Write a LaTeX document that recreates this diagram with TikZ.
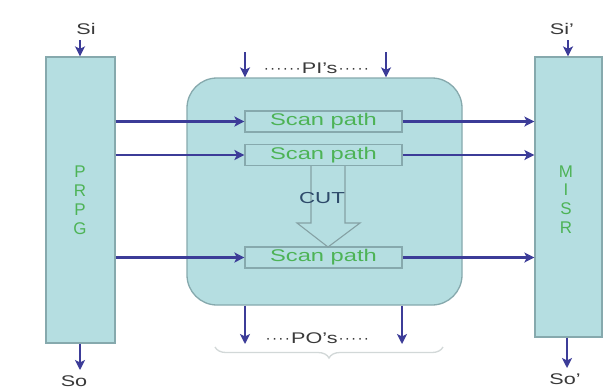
\documentclass[tikz,border=0pt]{standalone}
\usepackage{fontspec}
\setmainfont{Liberation Sans}
\usetikzlibrary{arrows.meta,decorations.pathreplacing}
\definecolor{boxfill}{HTML}{B5DEE1}
\definecolor{boxline}{HTML}{86A9AD}
\definecolor{arrblue}{HTML}{3C3C98}
\definecolor{grtext}{HTML}{4DB356}
\definecolor{lbl}{HTML}{3A3A3A}
\definecolor{cutcol}{HTML}{2E4A6A}
\definecolor{bracecol}{HTML}{D2D8D8}
\newcommand\wideTxt[1]{\scalebox{1.4}[1]{#1}}
\newcommand\dotC{\textperiodcentered\kern1.2bp}
\newcommand\dotsL{\dotC\dotC\dotC\dotC\dotC\dotC}
\begin{document}
\begin{tikzpicture}[x=1bp,y=-1bp,
  blk/.style={draw=boxline,fill=boxfill,line width=1.3bp,inner sep=0pt},
  scanbox/.style={draw=boxline,line width=1.2bp,inner sep=0pt,minimum width=157bp,minimum height=21bp,
    font=\fontsize{17}{17}\selectfont,text=grtext},
  arr/.style={draw=arrblue,line width=2.3bp,-{Stealth[length=10bp,width=10bp,inset=2.5bp]}},
  lab/.style={font=\fontsize{15.5}{15.5}\selectfont,text=lbl,inner sep=0pt},
  vlet/.style={font=\fontsize{17}{17}\selectfont,text=grtext,inner sep=0pt}
]
\useasboundingbox (0,0) rectangle (603,390);
\fill[white] (0,0) rectangle (603,390);

% blocks
\node[blk,minimum width=69bp,minimum height=286bp] (prpg) at (80.5,200) {};
\node[blk,minimum width=67bp,minimum height=280bp] (misr) at (568.5,197) {};
\node[blk,rounded corners=30bp,minimum width=275bp,minimum height=227bp] (cut) at (324.5,191.5) {};

% vertical letters
\node[vlet] (p1) at (80,172) {P};
\node[vlet] (p2) at (80,191) {R};
\node[vlet] (p3) at (80,210) {P};
\node[vlet] (p4) at (80,229) {G};
\node[vlet] (m1) at (566,172) {M};
\node[vlet] (m2) at (566,190) {I};
\node[vlet] (m3) at (566,209) {S};
\node[vlet] (m4) at (566,228) {R};

% scan paths
\node[scanbox] (s1) at (323.5,121.5) {\wideTxt{Scan path}};
\node[scanbox] (s2) at (323.5,155) {\wideTxt{Scan path}};
\node[scanbox] (s3) at (323.5,257.5) {\wideTxt{Scan path}};

% hollow arrow
\draw[draw=boxline!80!gray,line width=1.1bp]
  (311,166) -- (311,223) -- (297,223) -- (328,247) -- (360,223) -- (345,223) -- (345,166);
\node[lab,text=cutcol,font=\fontsize{16}{16}\selectfont] (cuttxt) at (322,198) {\wideTxt{CUT}};

% horizontal arrows
\foreach \s in {s1,s2,s3}{
  \draw[arr] (\s.west -| prpg.east) -- (\s.west);
  \draw[arr] (\s.east) -- (\s.east -| misr.west);
}

% Si / So
\node[lab] (si) at (86,29) {\wideTxt{Si}};
\coordinate (siA) at (80,40);
\draw[arr] (siA) -- (siA |- prpg.north);
\node[lab] (sip) at (562,29) {\wideTxt{Si'}};
\coordinate (sipA) at (568,40);
\draw[arr] (sipA) -- (sipA |- misr.north);
\node[lab] (so) at (74,381) {\wideTxt{So}};
\coordinate (soA) at (80,370);
\draw[arr] (soA |- prpg.south) -- (soA);
\node[lab] (sop) at (565,379) {\wideTxt{So'}};
\coordinate (sopA) at (567,368);
\draw[arr] (sopA |- misr.south) -- (sopA);

% PI / PO
\coordinate (pi1) at (245,52);
\coordinate (pi2) at (386,52);
\draw[arr] (pi1) -- (pi1 |- cut.north);
\draw[arr] (pi2) -- (pi2 |- cut.north);
\node[lab] (pis) at (317,68) {\dotsL\wideTxt{PI's}\kern1bp\dotC\dotC\dotC\dotC\dotC};
\coordinate (po1) at (245,344);
\coordinate (po2) at (402,344);
\draw[arr] (po1 |- cut.south) -- (po1);
\draw[arr] (po2 |- cut.south) -- (po2);
\node[lab] (pos) at (318,338) {\dotC\dotC\dotC\dotC\wideTxt{PO's}\kern1bp\dotC\dotC\dotC\dotC\dotC};

% brace
\coordinate (br1) at (215,347);
\coordinate (br2) at (443,347);
\draw[bracecol,line width=1.3bp,decorate,decoration={brace,mirror,amplitude=11bp,raise=0bp}] (br1) -- (br2);
\end{tikzpicture}
\end{document}
